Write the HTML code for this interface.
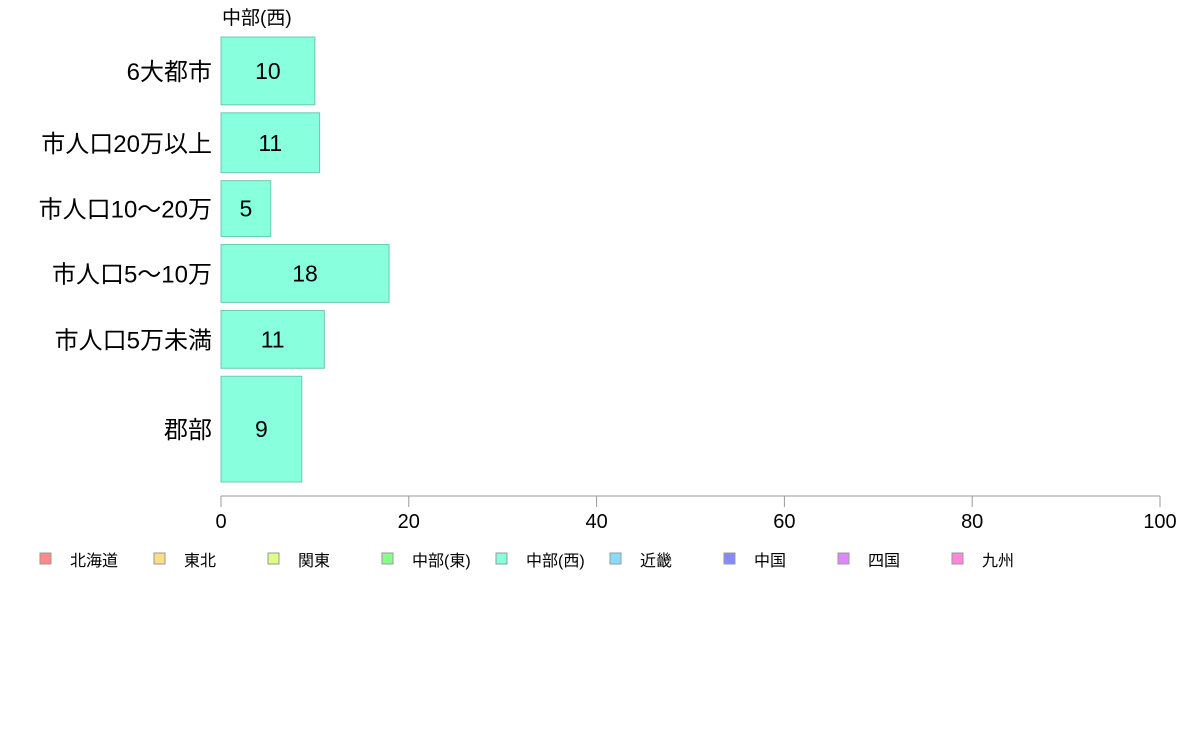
<!DOCTYPE html>
<html><head><meta charset="utf-8"><style>
body{margin:0;background:#fff;font-family:"Liberation Sans","Noto Sans CJK JP",sans-serif;}
svg text{font-family:"Liberation Sans","Noto Sans CJK JP",sans-serif;}
</style></head><body>
<svg id="c" width="1188" height="736"></svg>
<script>
const categories=["6大都市","市人口20万以上","市人口10〜20万","市人口5〜10万","市人口5万未満","郡部"];
const values=[10,10.5,5.3,17.9,11,8.6];
const weights=[68,60,56,58,58,106];
const ticks=[0,20,40,60,80,100];
const legendNames=["北海道","東北","関東","中部(東)","中部(西)","近畿","中国","四国","九州"];
const legendColors=["#ff8888","#ffdd88","#ddff88","#88ff88","#88ffdd","#88ddff","#8888ff","#dd88ff","#ff88dd"];
const NS="http://www.w3.org/2000/svg";
const svg=document.getElementById('c');
const x0=221,x1=1160,yTop=37,yBottom=482,gap=8;
const xs=v=>x0+(x1-x0)*v/100;
function mk(t,a,txt){const e=document.createElementNS(NS,t);for(const k in a)e.setAttribute(k,a[k]);if(txt!=null)e.textContent=txt;svg.appendChild(e);return e;}
const t=mk('text',{x:222,y:24,'font-size':19,fill:'#000'},'中部(西)');


const totalW=weights.reduce((a,b)=>a+b,0);
const avail=yBottom-yTop-gap*(categories.length-1);
let y=yTop;
categories.forEach((c,i)=>{
  const h=avail*weights[i]/totalW;
  const r=mk('rect',{x:x0,y:y,width:xs(values[i])-x0,height:h,fill:'#88ffdd',stroke:'#6cc9ae','stroke-width':1});
  
  
  const v=mk('text',{x:(x0+xs(values[i]))/2,y:y+h/2+8,'font-size':23,'text-anchor':'middle',fill:'#000'},Math.round(values[i]));
  
  
  const l=mk('text',{x:212,y:y+h/2+9,'font-size':24,'text-anchor':'end',fill:'#000'},c);
  
  
  y+=h+gap;
});
const ax=mk('line',{x1:x0,x2:x1,y1:496,y2:496,stroke:'#999','stroke-width':1});


ticks.forEach(v=>{
  const tl=mk('line',{x1:xs(v),x2:xs(v),y1:496,y2:507,stroke:'#999','stroke-width':1});
  
  
  const tx=mk('text',{x:xs(v),y:528,'font-size':20,'text-anchor':'middle',fill:'#000'},v);
  
  
});
legendNames.forEach((n,i)=>{
  const lx=40+i*114;
  const s=mk('rect',{x:lx,y:553,width:11,height:11,fill:legendColors[i],stroke:'#999','stroke-width':1});
  
  
  const lt=mk('text',{x:lx+30,y:566,'font-size':16,fill:'#000'},n);
  
  
});
</script>
</body></html>
